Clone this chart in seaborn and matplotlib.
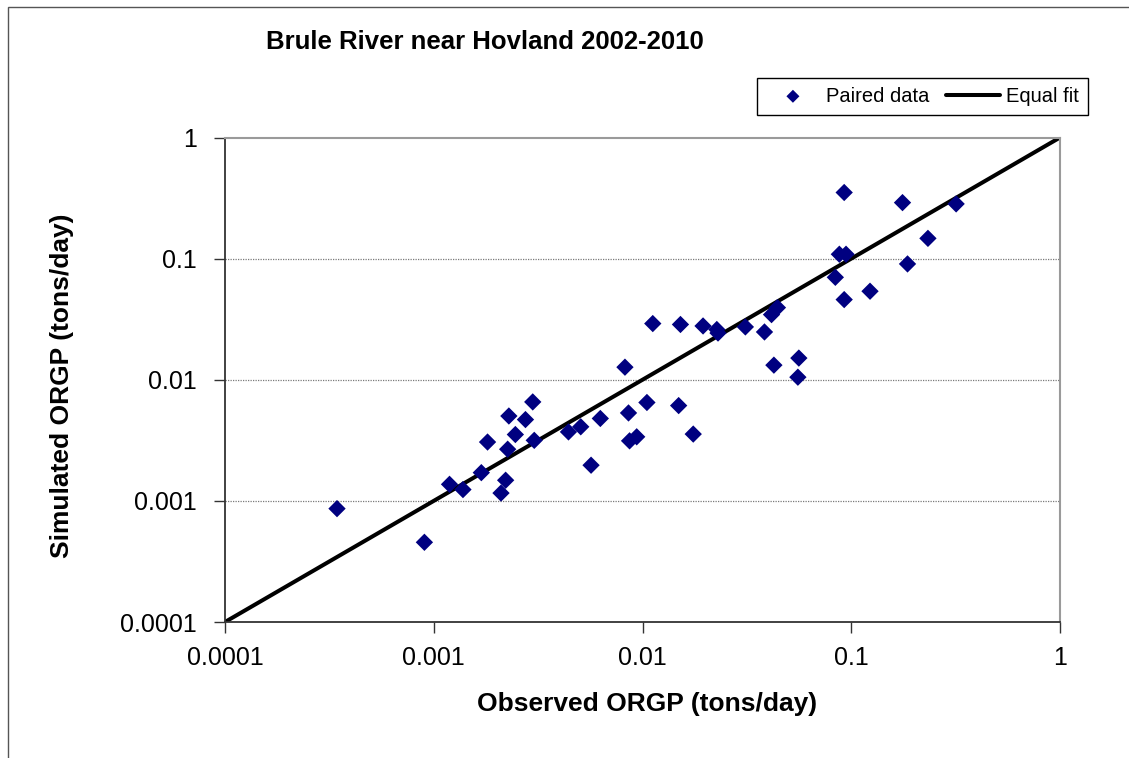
import numpy as np
import pandas as pd
import matplotlib
matplotlib.use("Agg")
import matplotlib.pyplot as plt
import seaborn as sns
from matplotlib.patches import Rectangle
from matplotlib.ticker import NullLocator

# =========================
# DATA
# =========================
observed = [0.000344, 0.000902, 0.00119, 0.00138, 0.00169, 0.00181, 0.0021, 0.00221,
            0.00226, 0.00229, 0.00246, 0.00275, 0.00298, 0.00303, 0.00442, 0.00506,
            0.00567, 0.00628, 0.00824, 0.00857, 0.00867, 0.00938, 0.0105, 0.0112,
            0.0149, 0.0152, 0.0175, 0.0195, 0.0227, 0.0230, 0.0311, 0.0384,
            0.0415, 0.0443, 0.0426, 0.0561, 0.0555, 0.0839, 0.0877, 0.0944,
            0.0925, 0.0925, 0.123, 0.176, 0.186, 0.233, 0.318]
simulated = [0.000863, 0.000455, 0.00137, 0.00124, 0.00171, 0.00306, 0.00116, 0.00148,
             0.00267, 0.00502, 0.00353, 0.00469, 0.00656, 0.00316, 0.00371, 0.00409,
             0.00197, 0.00479, 0.0127, 0.00532, 0.00313, 0.00338, 0.00649, 0.0291,
             0.00612, 0.0286, 0.00356, 0.0278, 0.0260, 0.0243, 0.0273, 0.0248,
             0.0345, 0.0394, 0.0132, 0.0151, 0.0105, 0.0701, 0.1087, 0.1087,
             0.3515, 0.0459, 0.0538, 0.290, 0.0904, 0.147, 0.283]

fit_line = [0.0001, 1]
tick_values = [0.0001, 0.001, 0.01, 0.1, 1]
tick_labels = ["0.0001", "0.001", "0.01", "0.1", "1"]
grid_values = [0.001, 0.01, 0.1]

df = pd.DataFrame({"observed": observed, "simulated": simulated})

# =========================
# STYLE
# =========================
sns.set_style("white")
plt.rcParams["font.family"] = ["Liberation Sans", "DejaVu Sans"]
plt.rcParams["text.color"] = "black"
plt.rcParams["xtick.color"] = "black"
plt.rcParams["ytick.color"] = "black"

W, H = 1129, 758
fig = plt.figure(figsize=(W / 100, H / 100), dpi=100)
ax = fig.add_axes([225 / W, 1 - 622 / H, 835 / W, (622 - 137.5) / H])

# gridlines behind the data
for g in grid_values:
    ax.axhline(g, color="#7a7a7a", lw=0.9, ls=(0, (1, 1)), zorder=0)

sns.lineplot(x=fit_line, y=fit_line, color="black", lw=2.9, ax=ax,
             label="Equal fit", zorder=2)
sns.scatterplot(data=df, x="observed", y="simulated", marker="D", color="#000080",
                s=78, edgecolor="none", ax=ax, label="Paired data", zorder=3)

ax.set_xscale("log")
ax.set_yscale("log")
ax.set_xlim(0.0001, 1)
ax.set_ylim(0.0001, 1)
ax.set_xticks(tick_values)
ax.set_xticklabels(tick_labels)
ax.set_yticks(tick_values)
ax.set_yticklabels(tick_labels)
ax.xaxis.set_minor_locator(NullLocator())
ax.yaxis.set_minor_locator(NullLocator())
ax.set_xlabel("")
ax.set_ylabel("")

ax.tick_params(axis="both", which="major", direction="out", length=8, width=1,
               color="#333333", labelsize=18, labelcolor="black",
               bottom=True, left=True)
ax.tick_params(axis="x", pad=9)
ax.tick_params(axis="y", pad=12)

for side in ["left", "bottom"]:
    ax.spines[side].set_color("#333333")
    ax.spines[side].set_linewidth(1.3)
for side in ["top", "right"]:
    ax.spines[side].set_color("#9a9a9a")
    ax.spines[side].set_linewidth(1.5)

# legend: scatter first, then line
handles, labels = ax.get_legend_handles_labels()
order = [labels.index("Paired data"), labels.index("Equal fit")]
leg = ax.legend([handles[i] for i in order], [labels[i] for i in order],
                ncol=2, loc="upper right", bbox_to_anchor=(1088 / W, 1 - 77.5 / H),
                bbox_transform=fig.transFigure, borderaxespad=0, fontsize=14.5,
                frameon=True, fancybox=False, framealpha=1, edgecolor="black",
                handlelength=2.7, handletextpad=0.3, columnspacing=0.8,
                borderpad=0.45, markerscale=0.75)
leg.get_frame().set_linewidth(1.0)
for t in leg.get_texts():
    t.set_color("black")

# titles and labels
fig.text(485 / W, 1 - 42 / H, "Brule River near Hovland 2002-2010", color="black",
         ha="center", va="center", fontsize=18.5, fontweight="bold")
fig.text(647 / W, 1 - 704 / H, "Observed ORGP (tons/day)", color="black",
         ha="center", va="center", fontsize=19, fontweight="bold")
fig.text(62 / W, 1 - 386 / H, "Simulated ORGP (tons/day)", color="black",
         ha="center", va="center", rotation=90, fontsize=19, fontweight="bold")

# outer chart border
fig.patches.append(Rectangle((7.5 / W, -0.1), 1.2, 1.1 - 7.5 / H,
                             transform=fig.transFigure, fill=False,
                             edgecolor="#555555", lw=1.0))

fig.savefig("out.png", dpi=100)
